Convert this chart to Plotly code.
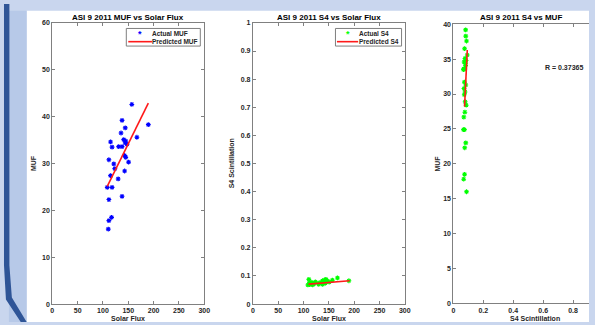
import plotly.graph_objects as go

# ---------------- data ----------------
solar_flux = [157, 137.7, 144, 189.6, 135.7, 167, 141, 145, 115, 144,
              131, 137.7, 147.5, 118, 142.8, 145, 111.7, 150.6, 121.4, 123.4,
              142.8, 115, 130, 108.5, 118, 137.7, 111.7, 117, 111.7, 110.5]
muf = [42.6, 39.2, 37.6, 38.3, 36.5, 35.6, 35.1, 34.8, 34.6, 34.4,
       33.6, 33.6, 34.1, 33.5, 31.7, 31.3, 30.8, 30.3, 29.9, 28.9,
       28.4, 27.4, 26.7, 24.9, 24.9, 23.0, 22.3, 18.5, 17.8, 16.0]
s4 = [0.085, 0.082, 0.088, 0.083, 0.075, 0.093, 0.078, 0.085, 0.072, 0.080,
      0.076, 0.070, 0.082, 0.068, 0.074, 0.083, 0.071, 0.078, 0.073, 0.079,
      0.086, 0.077, 0.070, 0.068, 0.074, 0.083, 0.076, 0.075, 0.069, 0.088]

muf_fit_x = [108.5, 189.6]
muf_fit_y = [25.1, 42.9]
s4_fit_x = [110, 191]
s4_fit_y = [0.071, 0.083]
s4muf_fit_x = [0.075, 0.093]
s4muf_fit_y = [28.2, 36.3]

titles = ["ASI 9 2011 MUF vs Solar Flux", "ASI 9 2011 S4 vs Solar Flux", "ASI 9 2011 S4 vs MUF"]
legend1_labels = ["Actual MUF", "Predicted MUF"]
legend2_labels = ["Actual S4", "Predicted S4"]
r_text = "R = 0.37365"

# ---------------- layout helpers ----------------
W, H = 595, 325
def fx(px):
    return px / W
def fy(py):
    return 1 - py / H

FONT = "Liberation Sans, Arial, sans-serif"
AX = "#808080"
TXT = "#262626"
BLUE = "#0000ff"
GREEN = "#00ff00"
RED = "#ff1a1a"

fig = go.Figure()

mk = lambda c: dict(symbol="asterisk-open", size=4, color=c, line=dict(color=c, width=1.1))

fig.add_trace(go.Scatter(x=solar_flux, y=muf, mode="markers", marker=mk(BLUE),
                         name=legend1_labels[0], xaxis="x", yaxis="y"))
fig.add_trace(go.Scatter(x=muf_fit_x, y=muf_fit_y, mode="lines", line=dict(color=RED, width=1.6),
                         name=legend1_labels[1], xaxis="x", yaxis="y"))
fig.add_trace(go.Scatter(x=solar_flux, y=s4, mode="markers", marker=mk(GREEN),
                         name=legend2_labels[0], xaxis="x2", yaxis="y2"))
fig.add_trace(go.Scatter(x=s4_fit_x, y=s4_fit_y, mode="lines", line=dict(color=RED, width=1.6),
                         name=legend2_labels[1], xaxis="x2", yaxis="y2"))
fig.add_trace(go.Scatter(x=s4, y=muf, mode="markers", marker=mk(GREEN),
                         xaxis="x3", yaxis="y3"))
fig.add_trace(go.Scatter(x=s4muf_fit_x, y=s4muf_fit_y, mode="lines", line=dict(color=RED, width=1.6),
                         xaxis="x3", yaxis="y3"))

ydom = [fy(306.7), fy(19.3)]
tickf = dict(family=FONT, size=7, color=TXT, weight="bold")

def axis(dom, rng, dtick, anchor, mirror="ticks", tickvals=None):
    d = dict(domain=dom, range=rng, anchor=anchor, showline=True, linecolor=AX,
             linewidth=1, mirror=mirror, ticks="inside", ticklen=3, tickcolor=AX,
             showgrid=False, zeroline=False, tickfont=tickf, fixedrange=True)
    if tickvals is not None:
        d["tickvals"] = tickvals
        d["ticktext"] = [f"{v:g}" for v in tickvals]
    else:
        d["dtick"] = dtick
        d["tick0"] = 0
    return d

x3_right = (W - 457.5) / 151.7
fig.update_layout(
    width=W, height=H, margin=dict(l=0, r=0, t=0, b=0),
    paper_bgcolor="#c9d6ee", plot_bgcolor="white", showlegend=False,
    xaxis=axis([fx(51), fx(205)], [0, 300], 50, "y"),
    yaxis=axis(ydom, [0, 60], 10, "x"),
    xaxis2=axis([fx(254.3), fx(408.3)], [0, 300], 50, "y2"),
    yaxis2=axis(ydom, [0, 1], 0.1, "x2"),
    xaxis3=axis([fx(457.5), 1.0], [0, x3_right], None, "y3", tickvals=[0, 0.2, 0.4, 0.6, 0.8]),
    yaxis3=axis([fy(306), fy(20.7)], [0, 40], 5, "x3", mirror=False),
)

shapes = []
# white figure region
shapes.append(dict(type="rect", xref="paper", yref="paper", x0=fx(25), x1=1, y0=0, y1=fy(7),
                   fillcolor="white", line=dict(width=0), layer="below"))
# lighter band at left
shapes.append(dict(type="rect", xref="paper", yref="paper", x0=fx(7), x1=fx(25), y0=0, y1=fy(7),
                   fillcolor="#b7c9e8", line=dict(width=0), layer="below"))
# dark blue curved stripe
pts = [(2, 0), (7.5, 0), (7.5, 267), (10, 300), (25, 325), (19, 325), (4, 302), (2, 267)]
path = "M " + " L ".join(f"{fx(a):.4f},{fy(b):.4f}" for a, b in pts) + " Z"
shapes.append(dict(type="path", xref="paper", yref="paper", path=path,
                   fillcolor="#2f5597", line=dict(width=0), layer="below"))

ann = []
leg_font = dict(family=FONT, size=6.5, color=TXT, weight="bold")
# hand-made compact legends (box, marker key, line key, labels)
for (bx0, bx1), lx, labels, col in [((126, 201), (128, 152), legend1_labels, BLUE),
                                     ((338, 405), (339.5, 361), legend2_labels, GREEN)]:
    shapes.append(dict(type="rect", xref="paper", yref="paper", x0=fx(bx0), x1=fx(bx1),
                       y0=fy(43), y1=fy(25), fillcolor="white", line=dict(color="#7f7f7f", width=1)))
    shapes.append(dict(type="line", xref="paper", yref="paper", x0=fx(lx[0]), x1=fx(lx[1]),
                       y0=fy(38.5), y1=fy(38.5), line=dict(color=RED, width=1.6)))
    ann.append(dict(text="<b>*</b>", x=fx((lx[0] + lx[1]) / 2), y=fy(30.5), xref="paper", yref="paper",
                    showarrow=False, font=dict(family=FONT, size=9, color=col),
                    xanchor="center", yanchor="middle"))
    for lab, yy in zip(labels, [30, 38.5]):
        ann.append(dict(text=lab, x=fx(lx[1] + 0.5), y=fy(yy), xref="paper", yref="paper",
                        showarrow=False, font=leg_font, xanchor="left", yanchor="middle",
                        xshift=-2))
fig.update_layout(shapes=shapes)

title_font = dict(family=FONT, size=8, color="#000000", weight="bold")
lab_font = dict(family=FONT, size=7, color=TXT, weight="bold")
for t, cx in zip(titles, [128, 331, 526]):
    ann.append(dict(text=t, x=fx(cx), y=fy(14), xref="paper", yref="paper",
                    showarrow=False, font=title_font, xanchor="center", yanchor="middle"))
for cx, t in [(32, "MUF"), (233, "S4 Scintillation"), (441, "MUF")]:
    ann.append(dict(text=t, x=fx(cx), y=fy(163), xref="paper", yref="paper", textangle=-90,
                    showarrow=False, font=lab_font, xanchor="center", yanchor="middle"))
for t, cx in [("Solar Flux", 128), ("Solar Flux", 331), ("S4 Scintillation", 540)]:
    ann.append(dict(text=t, x=fx(cx), y=fy(321), xref="paper", yref="paper",
                    showarrow=False, font=lab_font, xanchor="center", yanchor="middle"))
ann.append(dict(text=r_text, x=fx(570), y=fy(65), xref="paper", yref="paper",
                showarrow=False, font=dict(family=FONT, size=7, color=TXT, weight="bold"),
                xanchor="center", yanchor="middle"))
fig.update_layout(annotations=ann)

fig.write_html("out.html", config={"displayModeBar": False, "staticPlot": True},
               post_script="document.body.style.margin='0';document.body.style.overflow='hidden';")
